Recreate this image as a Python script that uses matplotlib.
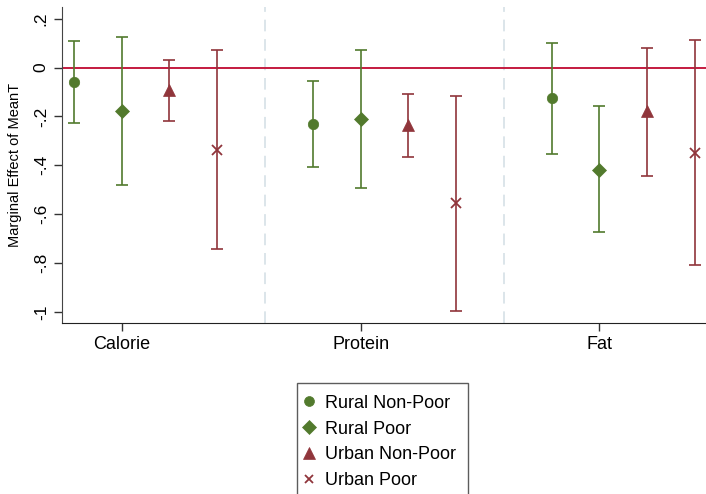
import matplotlib.pyplot as plt
from matplotlib.lines import Line2D
import numpy as np

plt.rcParams['font.family'] = ['Liberation Sans', 'DejaVu Sans']

nutrients = ['Calorie', 'Protein', 'Fat']
groups = ['Rural Non-Poor', 'Rural Poor', 'Urban Non-Poor', 'Urban Poor']

# point estimates, one row per group, columns follow nutrients
est = {
    'Rural Non-Poor': [-0.057, -0.232, -0.125],
    'Rural Poor': [-0.179, -0.210, -0.417],
    'Urban Non-Poor': [-0.091, -0.234, -0.177],
    'Urban Poor': [-0.336, -0.556, -0.350],
}
lower = {
    'Rural Non-Poor': [-0.225, -0.407, -0.354],
    'Rural Poor': [-0.482, -0.494, -0.673],
    'Urban Non-Poor': [-0.218, -0.367, -0.444],
    'Urban Poor': [-0.743, -0.996, -0.809],
}
upper = {
    'Rural Non-Poor': [0.108, -0.055, 0.102],
    'Rural Poor': [0.125, 0.073, -0.157],
    'Urban Non-Poor': [0.030, -0.108, 0.082],
    'Urban Poor': [0.073, -0.117, 0.112],
}

green = '#527a2d'
red = '#90353b'
styles = {
    'Rural Non-Poor': dict(color=green, marker='o', ms=7.5),
    'Rural Poor': dict(color=green, marker='D', ms=7),
    'Urban Non-Poor': dict(color=red, marker='^', ms=8.5),
    'Urban Poor': dict(color=red, marker='x', ms=6.5),
}

fig = plt.figure(figsize=(7.06, 4.94), dpi=100)
ax = fig.add_axes([62/706, 1-323/494, 1-62/706, (323-7)/494])

ax.axhline(0, color='#c41a3f', lw=1.4, zorder=1)
for sep in [5, 10]:
    ax.axvline(sep, color='#dce5ea', lw=1.4, ls=(0, (6, 4)), zorder=0)

for gi, g in enumerate(groups):
    x = np.array([1, 6, 11]) + gi
    y = np.array(est[g])
    yerr = np.vstack([y - np.array(lower[g]), np.array(upper[g]) - y])
    st = styles[g]
    ax.errorbar(x, y, yerr=yerr, fmt='none', ecolor=st['color'],
                elinewidth=1.2, capsize=4.5, capthick=1.2, zorder=2)
    ax.plot(x, y, ls='none', marker=st['marker'], ms=st['ms'],
            color=st['color'], mew=1.3 if st['marker'] == 'x' else 0.5, zorder=3)

ax.set_xlim(0.75, 14.23)
ax.set_ylim(-1.045, 0.248)
ax.set_xticks([2, 7, 12])
ax.set_xticklabels(nutrients, fontsize=13)
yt = [0.2, 0, -0.2, -0.4, -0.6, -0.8, -1]
ax.set_yticks(yt)
ax.set_yticklabels(['.2', '0', '-.2', '-.4', '-.6', '-.8', '-1'],
                   fontsize=12.5, rotation=90, va='center')
ax.tick_params(axis='both', direction='out', length=6, width=1, color='#333333')
ax.tick_params(axis='x', pad=3.5)
ax.set_ylabel('Marginal Effect of MeanT', fontsize=10.5)
ax.yaxis.set_label_coords(-0.062, 0.5)
ax.spines['top'].set_visible(False)
ax.spines['right'].set_visible(False)
ax.spines['left'].set_color('#444444')
ax.spines['bottom'].set_color('#222222')

handles = [Line2D([], [], ls='none', marker=styles[g]['marker'],
                  ms=styles[g]['ms'] * 0.95, color=styles[g]['color'],
                  mew=1.3 if styles[g]['marker'] == 'x' else 0.5)
           for g in groups]
leg = fig.legend(handles, groups, loc='upper left',
                 bbox_to_anchor=(296.5/706, 1-383/494), fontsize=13,
                 frameon=True, fancybox=False, handlelength=0.05,
                 handletextpad=0.87, labelspacing=0.49, borderpad=0.65,
                 borderaxespad=0)
leg.get_frame().set_edgecolor('#333333')
leg.get_frame().set_linewidth(1)

fig.savefig('out.png', dpi=100)
